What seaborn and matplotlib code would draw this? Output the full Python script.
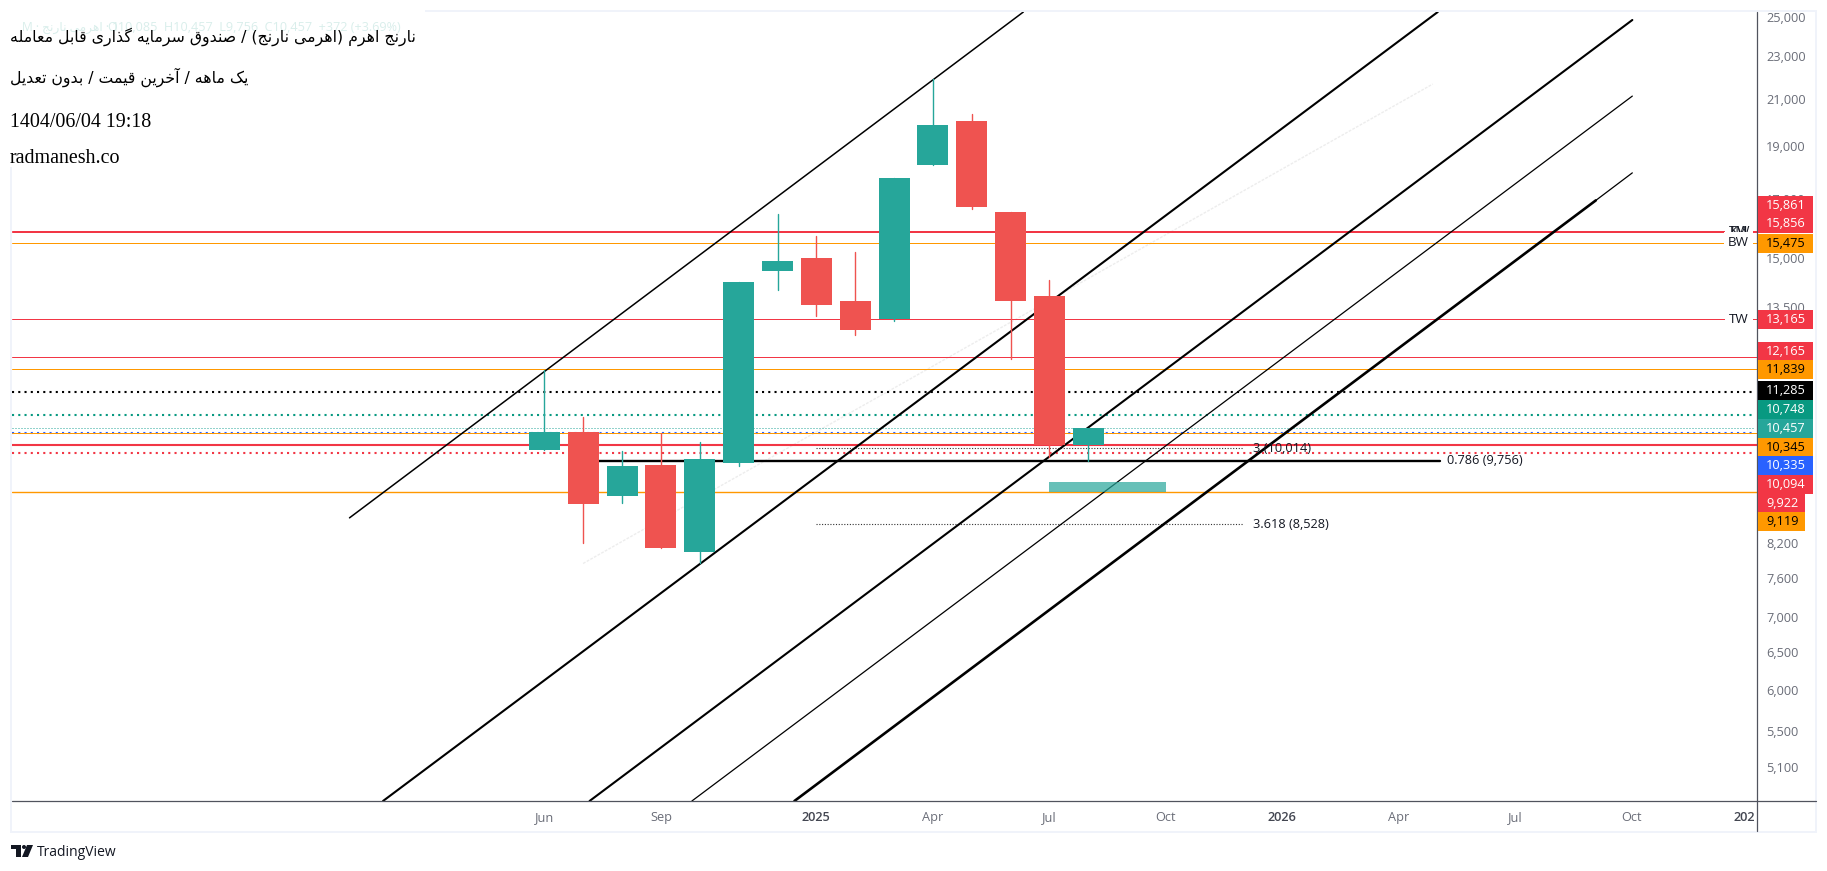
import matplotlib
matplotlib.use("Agg")
import matplotlib.pyplot as plt
import pandas as pd
import seaborn as sns
from matplotlib.lines import Line2D
from matplotlib.patches import Circle, Polygon, Rectangle
from matplotlib.transforms import Affine2D

# monthly candles, index 0 = Jun 2024
opens = [9970, 10358, 9060, 9657, 8045, 9717, 14575, 14983, 13675, 13164, 18250, 20037, 16518, 13822, 10085]
highs = [11813, 10692, 9948, 10335, 10140, 14240, 16449, 15697, 15175, 17755, 21904, 20334, 16518, 14300, 10457]
lows = [9970, 8190, 8910, 8115, 7845, 9637, 14000, 13247, 12725, 13108, 18250, 16625, 12092, 9822, 9756]
closes = [10358, 8890, 9637, 8115, 9800, 14240, 14887, 13559, 12860, 17755, 19868, 16695, 13675, 10075, 10457]

# horizontal levels
levels = [15861, 15856, 15475, 13165, 12165, 11839, 11285, 10748, 10457, 10345, 10335, 10094, 9922, 9119]
level_labels = ["15,861", "15,856", "15,475", "13,165", "12,165", "11,839", "11,285",
                "10,748", "10,457", "10,345", "10,335", "10,094", "9,922", "9,119"]

# channel lines: start index, start price, end index, end price
channel_x0 = [-5.02, -4.157, 1.161, 3.796, 6.436]
channel_y0 = [8642, 4742, 4742, 4742, 4742]
channel_x1 = [12.33, 23.0, 28.01, 28.01, 27.07]
channel_y1 = [25250, 25250, 24826, 21128, 16937]
tail_x = [27.07, 28.01]
tail_y = [16937, 17955]
faint_x = [0.994, 22.87]
faint_y = [7845, 21672]

# fib levels
fib_values = [10014, 8528]
fib_names = ["3 (10,014)", "3.618 (8,528)"]
fib_x = [7.0, 17.98]
main_fib_value = 9756
main_fib_name = "0.786 (9,756)"
main_fib_x = [1.0, 23.05]

zone_x = [13, 16]
zone_low = 9119
zone_high = 9315

price_ticks = [25000, 23000, 21000, 19000, 17000, 15000, 13500, 8200, 7600, 7000, 6500, 6000, 5500, 5100]
month_ticks = [0, 3, 7, 10, 13, 16, 19, 22, 25, 28, 30.9]
month_names = ["Jun", "Sep", "2025", "Apr", "Jul", "Oct", "2026", "Apr", "Jul", "Oct", "202"]

title_1 = "نارنج اهرم (اهرمی نارنج) / صندوق سرمایه گذاری قابل معامله"
title_2 = "یک ماهه / آخرین قیمت / بدون تعدیل"
symbol_name = "1 · اهرمی نارنج · M"
ohlc_text = "O10,085  H10,457  L9,756  C10,457  +372 (+3.69%)"

UP = "#26A69A"
DOWN = "#EF5350"
RED = "#F23645"
ORANGE = "#FF9800"
TEXT_GREY = "#6A6D78"
FRAME = "#F0F3FA"
AXIS = "#50535E"
X_MIN, X_MAX = -13.71, 31.22
DOT_END = 31.12

# matplotlib has no arabic shaping, so pick the joined glyphs by hand
FORMS = {"ا": 0xFE8D, "آ": 0xFE81, "ب": 0xFE8F, "ت": 0xFE95, "ج": 0xFE9D, "خ": 0xFEA5, "د": 0xFEA9,
         "ذ": 0xFEAB, "ر": 0xFEAD, "س": 0xFEB1, "ص": 0xFEB9, "ع": 0xFEC9, "ف": 0xFED1, "ق": 0xFED5,
         "ک": 0xFB8E, "گ": 0xFB92, "ل": 0xFEDD, "م": 0xFEE1, "ن": 0xFEE5, "و": 0xFEED, "ه": 0xFEE9,
         "ی": 0xFBFC}
NO_NEXT = "اآدذرو"
MIRROR = {"(": ")", ")": "("}


def shape_fa(s):
    out = []
    for i, ch in enumerate(s):
        if ch not in FORMS:
            out.append(MIRROR.get(ch, ch))
            continue
        prev = s[i - 1] if i > 0 else " "
        nxt = s[i + 1] if i < len(s) - 1 else " "
        join_prev = prev in FORMS and prev not in NO_NEXT
        join_next = nxt in FORMS and ch not in NO_NEXT
        offset = {(False, False): 0, (True, False): 1, (False, True): 2, (True, True): 3}[(join_prev, join_next)]
        out.append(chr(FORMS[ch] + offset))
    return "".join(reversed(out))


sns.set_style("white")
plt.rcParams["font.family"] = ["Open Sans", "DejaVu Sans"]

fig = plt.figure(figsize=(18.27, 8.71), dpi=100, facecolor="white")
ax = fig.add_axes([12 / 1827, 70 / 871, 1745 / 1827, 789 / 871])
ax.set_yscale("log")
ax.set_xlim(X_MIN, X_MAX)
ax.set_ylim(4742, 25250)
for side in ax.spines:
    ax.spines[side].set_visible(False)

# pixel coordinates measured from the top left of the image
px = Affine2D().scale(1, -1).translate(0, 871)


def hline(value, color, lw, ls="-", xs=(X_MIN, X_MAX), z=2):
    sns.lineplot(x=list(xs), y=[value, value], color=color, lw=lw, linestyle=ls,
                 estimator=None, sort=False, legend=False, ax=ax, zorder=z)


dots = (0, (1, 2))
hline(levels[0], RED, 0.72)
hline(levels[1], RED, 0.72)
hline(levels[2], ORANGE, 0.72)
hline(levels[3], RED, 0.72)
hline(levels[4], RED, 0.72)
hline(levels[5], ORANGE, 0.72)
hline(levels[6], "black", 1.5, dots, (X_MIN, DOT_END))
hline(levels[7], "#089981", 1.5, dots, (X_MIN, DOT_END))
hline(levels[8], UP, 0.72, (0, (1, 2)), (X_MIN, DOT_END))
hline(levels[10], "#2962FF", 1.5, dots, (X_MIN, DOT_END))
hline(levels[9], ORANGE, 0.72)
hline(levels[11], RED, 1.5)
hline(levels[12], RED, 1.5, dots, (X_MIN, DOT_END))
hline(levels[13], ORANGE, 1.0)

# faint dashed trend line
sns.lineplot(x=faint_x, y=faint_y, color="#EDEDED", lw=1.0, linestyle=(0, (2, 1)),
             estimator=None, sort=False, legend=False, ax=ax, zorder=1)

# channel
channel_widths = [1.1, 1.5, 1.5, 0.9, 1.9]
for x0, y0, x1, y1, w in zip(channel_x0, channel_y0, channel_x1, channel_y1, channel_widths):
    sns.lineplot(x=[x0, x1], y=[y0, y1], color="black", lw=w,
                 estimator=None, sort=False, legend=False, ax=ax, zorder=3)
sns.lineplot(x=tail_x, y=tail_y, color="black", lw=0.9,
             estimator=None, sort=False, legend=False, ax=ax, zorder=3)

# fib lines
for value, name in zip(fib_values, fib_names):
    hline(value, "#333333", 0.8, (0, (1, 1.5)), fib_x, z=2.5)
    ax.text(18.24, value, name, fontsize=9.2, color="#131722", va="center", ha="left", zorder=4)
hline(main_fib_value, "black", 1.7, "-", main_fib_x, z=3)
ax.text(23.23, main_fib_value, main_fib_name, fontsize=9.2, color="#131722", va="center", ha="left", zorder=4)

ax.fill_between(zone_x, [zone_low, zone_low], [zone_high, zone_high], color=UP, alpha=0.7, lw=0, zorder=4)

# candles
df = pd.DataFrame({"open": opens, "high": highs, "low": lows, "close": closes})
df["month"] = range(len(df))
df["color"] = [UP if c >= o else DOWN for o, c in zip(df["open"], df["close"])]
wicks = df.melt(id_vars=["month", "color"], value_vars=["low", "high"], value_name="price")
for color, part in wicks.groupby("color"):
    sns.lineplot(data=part, x="month", y="price", units="month", estimator=None, sort=False,
                 color=color, lw=1.0, legend=False, ax=ax, zorder=5)
bottoms = df[["open", "close"]].min(axis=1)
tops = df[["open", "close"]].max(axis=1)
ax.bar(df["month"], tops - bottoms, bottom=bottoms, width=31 / 38.84, color=df["color"], lw=0, zorder=6)

# line tags next to the price scale
for value, name, off in [(15861, "TM", 0), (15856, "KW", 2), (15475, "BW", 0), (13165, "TW", 0)]:
    ax.text(30.75 + off * 0.01, value, name, fontsize=9.6, color="#131722", va="center", ha="center", zorder=4,
            bbox=dict(facecolor="white", edgecolor="none", pad=3) if off == 0 else None)

ax.minorticks_off()
ax.yaxis.tick_right()
ax.set_yticks(price_ticks)
ax.set_yticklabels([f"{v:,}" for v in price_ticks], fontsize=9.2, color=TEXT_GREY)
ax.set_xticks(month_ticks)
ax.set_xticklabels(month_names, fontsize=9.2, color=TEXT_GREY)
for lab in ax.get_xticklabels():
    if lab.get_text().startswith("202"):
        lab.set_fontweight("semibold")
        lab.set_color("#434651")
ax.tick_params(axis="y", length=0, pad=6.5)
ax.tick_params(axis="x", length=0, pad=7)
ax.minorticks_off()
ax.set_xlabel("")
ax.set_ylabel("")

# frame around the chart
for box in [(10, 10, 1807, 2), (10, 831, 1807, 2), (10, 10, 2, 823), (1815, 10, 2, 823)]:
    fig.add_artist(Rectangle((box[0], box[1]), box[2], box[3], transform=px, color=FRAME, lw=0, zorder=1))
fig.add_artist(Line2D([12, 1816], [801, 801], transform=px, color=AXIS, lw=0.9, zorder=2))
fig.add_artist(Line2D([1757, 1757], [12, 831], transform=px, color=AXIS, lw=0.9, zorder=2))

# value boxes on the price scale
box_y = [205.5, 223.5, 243, 319, 351, 369, 390, 409, 428, 447, 465.5, 484, 503, 521.5]
box_colors = [RED, RED, ORANGE, RED, RED, ORANGE, "black", "#089981", UP, ORANGE, "#2962FF", RED, RED, ORANGE]
text_colors = ["white", "white", "black", "white", "white", "black", "white",
               "white", "white", "black", "white", "white", "white", "black"]
for y, name, bc, tc in zip(box_y, level_labels, box_colors, text_colors):
    width = 55 if len(name) > 5 else 47
    fig.add_artist(Rectangle((1757.5, y - 9.5), width, 19, transform=px, color=bc, lw=0, zorder=3))
    fig.text(1766, y, name, transform=px, fontsize=9.2, color=tc, va="center", ha="left", zorder=4)

# title block sits on a white sheet
fig.add_artist(Rectangle((0, 0), 425, 167, transform=px, color="white", lw=0, zorder=5))
fig.text(22, 27, shape_fa(symbol_name), transform=px, fontsize=8.7, color="#D9EEEB", va="center", zorder=6)
fig.text(108, 27, ohlc_text, transform=px, fontsize=9.1, color="#D9EEEB", va="center", zorder=6)
fig.text(10, 37, shape_fa(title_1), transform=px, fontsize=11.3, color="black", va="center",
         family="DejaVu Sans", zorder=7)
fig.text(10, 77, shape_fa(title_2), transform=px, fontsize=11.3, color="black", va="center",
         family="DejaVu Sans", zorder=7)
fig.text(10, 122, "1404/06/04 19:18", transform=px, fontsize=14.4, color="black", va="center",
         family="Liberation Serif", zorder=7)
fig.text(10, 158, "radmanesh.co", transform=px, fontsize=14.4, color="black", va="center",
         family="Liberation Serif", zorder=7)

# TradingView mark
logo = "#131722"
fig.add_artist(Polygon([(11, 845), (21, 845), (21, 857), (16, 857), (16, 849), (11, 849)], transform=px, color=logo, lw=0))
fig.add_artist(Circle((24, 847), 2, transform=px, color=logo, lw=0))
fig.add_artist(Polygon([(27, 845), (33, 845), (28, 857), (22, 857)], transform=px, color=logo, lw=0))
fig.text(37, 852, "TradingView", transform=px, fontsize=10, color="#131722", va="center")

fig.savefig("out.png", dpi=100, facecolor="white")
